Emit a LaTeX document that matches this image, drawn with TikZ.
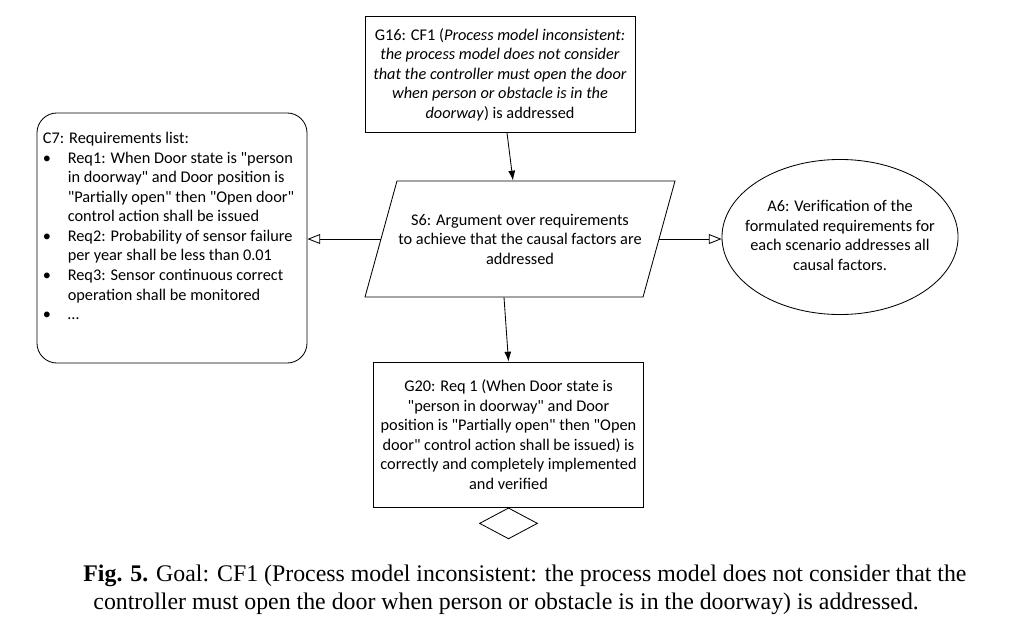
\documentclass[tikz,border=0pt]{standalone}
\usepackage{fontspec}
\setmainfont{Carlito}[Ligatures=TeXOff]
\newfontfamily\capfont{Liberation Serif}
\usepackage{tikz}
\usetikzlibrary{arrows.meta}
\usetikzlibrary{shapes.geometric}
\usetikzlibrary{calc}

\begin{document}
\begin{tikzpicture}[x=0.025cm,y=-0.025cm,line width=0.6pt,
  every node/.style={font=\fontsize{11.6}{13.9}\selectfont},
  goalbox/.style={draw,rectangle,align=center,minimum width=6.75cm,inner sep=0.1cm},
  listbox/.style={draw,rectangle,rounded corners=0.5cm,minimum width=6.75cm,minimum height=6.25cm,inner sep=0pt},
  strategy/.style={draw,trapezium,trapezium left angle=74.6,trapezium right angle=105.4,inner sep=0pt},
  assumption/.style={draw,ellipse,minimum width=5.9cm,minimum height=3.875cm,inner sep=0pt},
  undev/.style={draw,diamond,minimum width=1.45cm,minimum height=0.775cm,inner sep=0pt},
  solidarrow/.style={-{Latex[length=7pt,width=5pt]}},
  openarrow/.style={-{Triangle[open,length=9pt,width=7pt]}},
  caption/.style={anchor=base west,inner sep=0pt,font=\capfont\fontsize{16.95}{20.6}\selectfont}]
\useasboundingbox (0,0) rectangle (1010,638);
%%\draw[step=50,color=black!20,dotted] (0,0) grid (1010,638);
\node (g16) [goalbox, minimum height=2.9cm] at (500,74.5) {G16: CF1 (\textit{Process model inconsistent:}\\ \textit{the process model does not consider}\\ \textit{that the controller must open the door}\\ \textit{when person or obstacle is in the}\\ \textit{doorway}) is addressed};
\node (s6) [strategy] at (520,239) {\parbox[c][2.9cm][c]{6.15cm}{\centering S6: Argument over requirements\\ to achieve that the causal factors are\\ addressed}};
\node (c7) [listbox] at (172,238) {\parbox[c][5.4cm][t]{6.45cm}{%
  \begin{tabular}{@{}p{0.62cm}@{}l@{}}
  \multicolumn{2}{@{}l@{}}{C7: Requirements list:}\\
  \textbullet & Req1: When Door state is "person\\
   & in doorway" and Door position is\\
   & "Partially open" then "Open door"\\
   & control action shall be issued\\
  \textbullet & Req2: Probability of sensor failure\\
   & per year shall be less than 0.01\\
  \textbullet & Req3: Sensor continuous correct\\
   & operation shall be monitored\\
  \textbullet & \ldots
  \end{tabular}}};
\node (a6) [assumption] at (840,237) {\makebox[3.6cm]{\begin{tabular}{@{}c@{}}A6: Verification of the\\ formulated requirements for\\ each scenario addresses all\\ causal factors.\end{tabular}}};
\node (g20) [goalbox, minimum height=3.625cm] at (508.5,434.5) {G20: Req 1 (When Door state is\\ "person in doorway" and Door\\ position is "Partially open" then "Open\\ door" control action shall be issued) is\\ correctly and completely implemented\\ and verified};
\node (g20u) [undev, anchor=north] at (g20.south) {};

\draw [solidarrow] (g16.south -| 507,0) -- (s6.north -| 513,0);
\draw [solidarrow] (s6.south -| 504,0) -- (g20.north);
\draw [openarrow] (s6.west) -- (s6.west -| c7.east);
\draw [openarrow] (s6.east) -- (s6.east -| a6.west);

\node (cap1) [caption] at (83,581) {\textbf{Fig. 5.} Goal: CF1 (Process model inconsistent: the process model does not consider that the};
\node (cap2) [caption] at (93,609) {controller must open the door when person or obstacle is in the doorway) is addressed.};
\end{tikzpicture}
\end{document}
